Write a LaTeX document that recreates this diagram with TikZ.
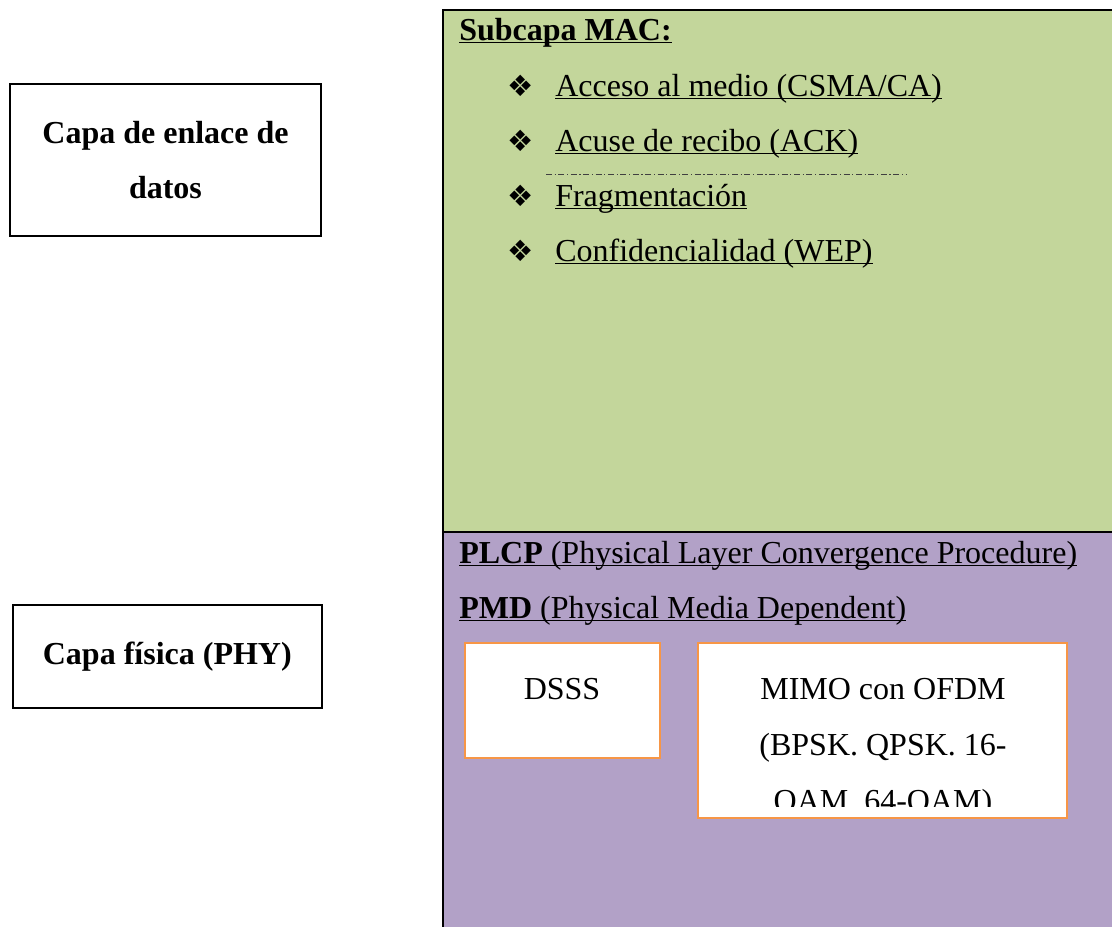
\documentclass[tikz,border=0pt]{standalone}
\usepackage{fontspec}
\setmainfont{Liberation Serif}
\newfontfamily\dejavu{DejaVu Sans}
\usetikzlibrary{positioning}
\definecolor{macgreen}{RGB}{195,214,155}
\definecolor{phyviolet}{RGB}{178,161,199}
\definecolor{pmdorange}{RGB}{247,150,70}
\newlength\pxl \setlength\pxl{0.75pt}
\newsavebox\ulbox
\newcommand{\subrayar}[1]{\sbox\ulbox{#1}\rlap{\rule[-2.6pt]{\wd\ulbox}{1.3pt}}\usebox\ulbox}
\tikzset{
  bigfont/.style={font=\fontsize{24}{42}\selectfont},
  layerbox/.style={draw, line width=1.5pt, minimum width=682\pxl},
  sidebox/.style={draw, line width=1.5pt, fill=white, align=center, inner sep=0pt,
    font=\fontsize{24}{41.25}\selectfont\bfseries},
  pmdbox/.style={draw=pmdorange, line width=1.5pt, fill=white, inner sep=0pt},
  txt/.style={anchor=base west, inner sep=0pt, font=\fontsize{24}{41.5}\selectfont},
}

\begin{document}
\begin{tikzpicture}[x=0.75pt,y=-0.75pt]
  \useasboundingbox (0,0) rectangle (1112,926);
  \clip (0,0) rectangle (1112,926);
  % capas izquierda
  \node[sidebox, minimum width=311\pxl, minimum height=152\pxl] (enlace) at (165.5,160) {Capa de enlace de\\datos};
  \node[sidebox, minimum width=309\pxl, minimum height=103\pxl] (fisica) at (167.3,656.5) {Capa física (PHY)};
  % subcapas
  \node[layerbox, fill=macgreen, minimum height=522\pxl] (mac) at (784,271) {};
  \node[layerbox, fill=phyviolet, minimum height=403\pxl] (phy) at (784,733.5) {};
  \node[txt] (mactitle) at (459,40) {\subrayar{\textbf{Subcapa MAC:}}};
  \foreach \yb/\texto [count=\i] in {96/{Acceso al medio (CSMA/CA)}, 151/{Acuse de recibo (ACK)},
      206/{Fragmentación}, 261/{Confidencialidad (WEP)}} {
    \node[anchor=base, inner sep=0pt, font=\dejavu\fontsize{22}{24}\selectfont] (bullet\i) at (521,\yb) {❖};
    \node[txt] (item\i) at (555,\yb) {\subrayar{\texto}};
  }
  \draw[black!75, line width=0.7pt, dash pattern=on 4.5pt off 2pt on 0.8pt off 2pt] (546,174) -- (907,174);
  \node[txt] (plcp) at (459,563) {\subrayar{\textbf{PLCP} (Physical Layer Convergence Procedure)}};
  \node[txt] (pmd) at (459,618) {\subrayar{\textbf{PMD} (Physical Media Dependent)}};
  % cajas PMD
  \node[pmdbox, minimum width=195\pxl, minimum height=115\pxl] (dsss) at (562,700.5) {};
  \node[anchor=base, inner sep=0pt, bigfont] (dssstxt) at (dsss.center |- 0,699) {DSSS};
  \node[pmdbox, minimum width=369\pxl, minimum height=175\pxl] (mimo) at (882.5,730.5) {};
  \begin{scope}
    \clip (698,643) rectangle (1067,806);
    \node[anchor=base, inner sep=0pt, align=center, bigfont] (mimotxt) at (883,811)
      {MIMO con OFDM\\(BPSK. QPSK. 16-\\OAM. 64-OAM)};
  \end{scope}
\end{tikzpicture}
\end{document}
